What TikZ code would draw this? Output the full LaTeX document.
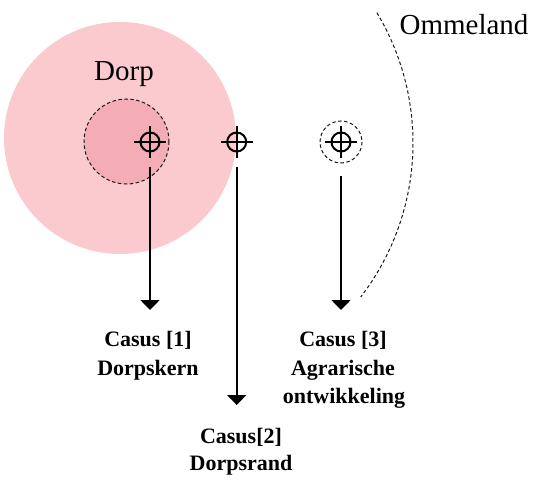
\documentclass[tikz,border=0pt]{standalone}
\usepackage{fontspec}
\setmainfont{Liberation Serif}
\usetikzlibrary{arrows.meta}
\definecolor{outerpink}{RGB}{250,202,207}
\definecolor{innerpink}{RGB}{244,172,181}
\tikzset{
  dashcirc/.style={draw=black!90, line width=1pt, dash pattern=on 3.5pt off 2.5pt},
  crossmark/.style={line width=2pt},
  casearrow/.style={line width=1.7pt, -{Triangle[width=19pt,length=10pt]}},
  caselabel/.style={font=\fontsize{22}{27}\selectfont\bfseries, anchor=base, inner sep=0pt},
  biglabel/.style={font=\fontsize{29}{34}\selectfont, anchor=base, inner sep=0pt}
}
\begin{document}
\begin{tikzpicture}[x=1pt,y=-1pt]
\useasboundingbox (0,0) rectangle (535,481);
% village areas
\fill[outerpink] (120,138) circle (116);
\filldraw[fill=innerpink, dashcirc] (126.5,141.5) circle (42.5);
\draw[dashcirc] (341,142) circle (21);
% outskirts boundary
\draw[dashcirc] (160,143) ++(-31:253) arc[start angle=-31, end angle=37.5, radius=253];
% crosshairs
\foreach \n/\x in {c1/150, c2/236.7, c3/341}{
  \coordinate (\n) at (\x,142);
  \draw[crossmark] (\n) circle (9.5);
  \draw[crossmark] ([xshift=-16]\n) -- ([xshift=16]\n);
  \draw[crossmark] ([yshift=-16]\n) -- ([yshift=16]\n);
}
% arrows
\coordinate (s1) at (150,167);   \coordinate (t1) at (150,310);
\coordinate (s2) at (236.7,167); \coordinate (t2) at (236.7,405);
\coordinate (s3) at (341,176);   \coordinate (t3) at (341,310);
\draw[casearrow] (s1) -- (t1);
\draw[casearrow] (s2) -- (t2);
\draw[casearrow] (s3) -- (t3);
% labels
\node[biglabel] (dorp) at (124,80.7) {Dorp};
\node[biglabel] (ommeland) at (464,34.3) {Ommeland};
\node[caselabel] (l1a) at (148,346.7) {Casus [1]};
\node[caselabel] (l1b) at (148,375) {Dorpskern};
\node[caselabel] (l2a) at (241,443) {Casus[2]};
\node[caselabel] (l2b) at (241,470) {Dorpsrand};
\node[caselabel] (l3a) at (343,346.7) {Casus [3]};
\node[caselabel] (l3b) at (343,375) {Agrarische};
\node[caselabel] (l3c) at (344,403) {ontwikkeling};
\end{tikzpicture}
\end{document}
